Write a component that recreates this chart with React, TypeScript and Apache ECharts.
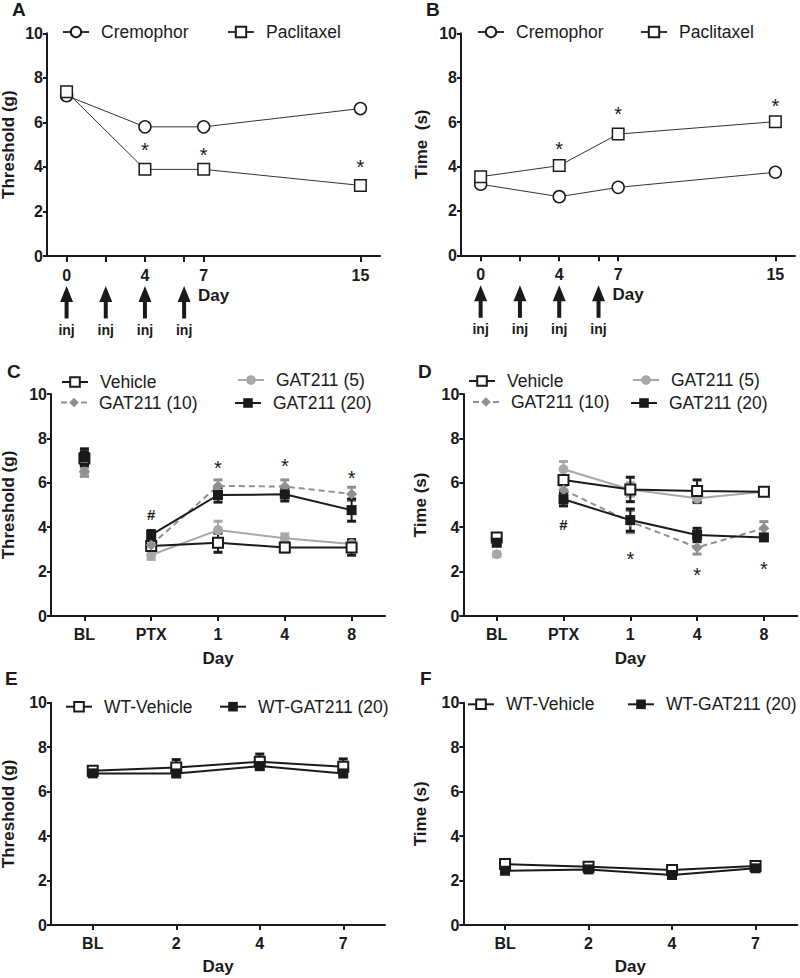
import React, { useEffect, useRef } from 'react';
import * as echarts from 'echarts';

// ---------- data ----------
const abDays = [0, 4, 7, 15];
const abTickDays = [0, 2, 4, 6, 7, 15];
const abLabelDays = [0, 4, 7, 15];
const injectionDays = [0, 2, 4, 6];

const aCremophor = [7.2, 5.8, 5.8, 6.62];
const aCremophorErr = [0.2, 0.05, 0.05, 0.1];
const aPaclitaxel = [7.37, 3.89, 3.89, 3.17];
const aPaclitaxelErr = [0.1, 0.05, 0.05, 0.08];
const aStarDays = [4, 7, 15];
const aStarLevels = [4.95, 4.75, 4.2];

const bCremophor = [3.2, 2.64, 3.06, 3.74];
const bCremophorErr = [0.08, 0.2, 0.06, 0.06];
const bPaclitaxel = [3.54, 4.04, 5.46, 6.02];
const bPaclitaxelErr = [0.06, 0.08, 0.15, 0.08];
const bStarDays = [4, 7, 15];
const bStarLevels = [4.97, 6.55, 6.95];

const cdCategories = ['BL', 'PTX', '1', '4', '8'];
const cVehicle = [7.1, 3.15, 3.3, 3.09, 3.09];
const cVehicleErr = [0.3, 0.2, 0.43, 0.2, 0.35];
const cGat5 = [6.5, 2.75, 3.87, 3.5, 3.24];
const cGat5Err = [0.2, 0.2, 0.4, 0.2, 0.15];
const cGat10 = [6.5, 3.2, 5.86, 5.83, 5.5];
const cGat10Err = [0.2, 0.2, 0.27, 0.3, 0.3];
const cGat20 = [7.15, 3.65, 5.45, 5.48, 4.77];
const cGat20Err = [0.38, 0.2, 0.32, 0.3, 0.5];
const cStarIdx = [2, 3, 4];
const cStarLevels = [6.88, 6.95, 6.4];
const cHashIdx = [1];
const cHashLevels = [4.55];

const dVehicle = [3.54, 6.13, 5.7, 5.63, 5.6];
const dVehicleErr = [0.15, 0.2, 0.55, 0.5, 0.15];
const dGat5 = [2.78, 6.61, 5.7, 5.3, 5.6];
const dGat5Err = [0.1, 0.35, 0.3, 0.2, 0.15];
const dGat10 = [3.3, 5.68, 4.25, 3.09, 3.95];
const dGat10Err = [0.1, 0.2, 0.5, 0.3, 0.3];
const dGat20 = [3.3, 5.26, 4.32, 3.65, 3.54];
const dGat20Err = [0.1, 0.3, 0.5, 0.3, 0.1];
const dStarIdx = [2, 3, 4];
const dStarLevels = [2.79, 2.07, 2.33];
const dHashIdx = [1];
const dHashLevels = [4.1];

const efCategories = ['BL', '2', '4', '7'];
const eVehicle = [6.94, 7.09, 7.34, 7.12];
const eVehicleErr = [0.1, 0.35, 0.35, 0.35];
const eGat20 = [6.82, 6.82, 7.15, 6.82];
const eGat20Err = [0.1, 0.15, 0.15, 0.15];

const fVehicle = [2.74, 2.62, 2.47, 2.65];
const fVehicleErr = [0.08, 0.08, 0.05, 0.05];
const fGat20 = [2.44, 2.5, 2.25, 2.55];
const fGat20Err = [0.08, 0.08, 0.08, 0.08];

// ---------- styling ----------
const INK = '#1a1a1a';
const GRAY5 = '#a8a8a8';
const GRAY10 = '#909090';
const FONT = "'Liberation Sans', Arial, Helvetica, sans-serif";

const tickLabel = { color: INK, fontSize: 16, fontWeight: 'bold', fontFamily: FONT };
const axisName = { color: INK, fontSize: 17, fontWeight: 'bold', fontFamily: FONT };

function yAxisCfg(grid: number, name: string, gap: number) {
  return {
    gridIndex: grid, type: 'value', min: 0, max: 10, interval: 2,
    name, nameLocation: 'middle', nameGap: gap, nameTextStyle: axisName,
    axisLine: { show: true, onZero: false, lineStyle: { color: INK, width: 2 } },
    axisTick: { show: true, length: 4, lineStyle: { color: INK, width: 2 } },
    axisLabel: { ...tickLabel, margin: 4 },
    splitLine: { show: false },
  };
}

function xCatCfg(grid: number, cats: string[], gap: number) {
  return {
    gridIndex: grid, type: 'category', data: cats, boundaryGap: true,
    name: 'Day', nameLocation: 'middle', nameGap: gap, nameTextStyle: axisName,
    axisLine: { show: true, onZero: false, lineStyle: { color: INK, width: 2 } },
    axisTick: { show: true, alignWithLabel: true, length: 5, lineStyle: { color: INK, width: 2 } },
    axisLabel: { ...tickLabel, margin: 10, interval: 0 },
    splitLine: { show: false },
  };
}

function xDayCfg(grid: number) {
  return {
    gridIndex: grid, type: 'value', min: -1, max: 16,
    name: 'Day', nameLocation: 'middle', nameGap: 31, nameTextStyle: axisName,
    axisLine: { show: true, onZero: false, lineStyle: { color: INK, width: 2 } },
    axisTick: { show: true, customValues: abTickDays, length: 6, lineStyle: { color: INK, width: 2 } },
    axisLabel: { ...tickLabel, customValues: abLabelDays, margin: 11 },
    splitLine: { show: false },
  };
}

function errorSeries(grid: number, xs: number[], vals: number[], errs: number[], color: string, capW: number, lw: number) {
  const data = vals.map((v, i) => [xs[i], v - errs[i], v + errs[i]]);
  return {
    type: 'custom', xAxisIndex: grid, yAxisIndex: grid, data, silent: true, z: 2,
    encode: { x: 0, y: [1, 2] },
    renderItem: (_p: any, api: any) => {
      const x = api.value(0);
      const top = api.coord([x, api.value(2)]);
      const bot = api.coord([x, api.value(1)]);
      const h = capW / 2;
      return {
        type: 'group',
        children: [
          { type: 'line', shape: { x1: top[0], y1: top[1], x2: bot[0], y2: bot[1] }, style: { stroke: color, lineWidth: lw } },
          { type: 'line', shape: { x1: top[0] - h, y1: top[1], x2: top[0] + h, y2: top[1] }, style: { stroke: color, lineWidth: lw + 1 } },
          { type: 'line', shape: { x1: bot[0] - h, y1: bot[1], x2: bot[0] + h, y2: bot[1] }, style: { stroke: color, lineWidth: lw + 1 } },
        ],
      };
    },
  };
}

function textSeries(grid: number, xs: number[], ys: number[], text: string, fontSize: number, bold: boolean, dy: number) {
  return {
    type: 'custom', xAxisIndex: grid, yAxisIndex: grid, silent: true, z: 6,
    data: xs.map((x, i) => [x, ys[i]]),
    encode: { x: 0, y: 1 },
    renderItem: (_p: any, api: any) => {
      const c = api.coord([api.value(0), api.value(1)]);
      return {
        type: 'text', x: c[0], y: c[1] + dy,
        style: { text, fill: INK, fontSize, fontFamily: FONT, fontWeight: bold ? 'bold' : 'normal', align: 'center', verticalAlign: 'middle' },
      };
    },
  };
}

function arrowSeries(grid: number) {
  return {
    type: 'custom', xAxisIndex: grid, yAxisIndex: grid, silent: true, clip: false, z: 6,
    data: injectionDays.map((d) => [d, 0]),
    encode: { x: 0, y: 1 },
    renderItem: (_p: any, api: any) => {
      const c = api.coord([api.value(0), 0]);
      const x = c[0];
      const y0 = c[1];
      return {
        type: 'group',
        children: [
          { type: 'polygon', shape: { points: [[x, y0 + 30], [x - 6.5, y0 + 46], [x + 6.5, y0 + 46]] }, style: { fill: INK } },
          { type: 'rect', shape: { x: x - 2, y: y0 + 44, width: 4, height: 18.5 }, style: { fill: INK } },
          { type: 'text', x, y: y0 + 74, style: { text: 'inj', fill: INK, fontSize: 14, fontWeight: 'bold', fontFamily: FONT, align: 'center', verticalAlign: 'middle' } },
        ],
      };
    },
  };
}

type Look = { symbol: string; size: number; fill: string; border: string; bw: number; line: string; lw: number; dash?: boolean };

const openCircleAB: Look = { symbol: 'circle', size: 12, fill: '#fff', border: INK, bw: 1.5, line: '#333', lw: 1 };
const openSquareAB: Look = { symbol: 'rect', size: 11.5, fill: '#fff', border: INK, bw: 1.5, line: '#333', lw: 1 };
const lookVehicle: Look = { symbol: 'rect', size: 10, fill: '#fff', border: INK, bw: 2, line: INK, lw: 2 };
const lookGat5: Look = { symbol: 'circle', size: 10, fill: GRAY5, border: GRAY5, bw: 0, line: GRAY5, lw: 2 };
const lookGat10: Look = { symbol: 'diamond', size: 11, fill: GRAY10, border: GRAY10, bw: 0, line: GRAY10, lw: 2, dash: true };
const lookGat20: Look = { symbol: 'rect', size: 10, fill: INK, border: INK, bw: 0, line: INK, lw: 2 };

function lineSeries(name: string, grid: number, data: any[], look: Look) {
  return {
    type: 'line', name, xAxisIndex: grid, yAxisIndex: grid, data, z: 3,
    symbol: look.symbol, symbolSize: look.size, showSymbol: true, showAllSymbol: true,
    itemStyle: { color: look.fill, borderColor: look.border, borderWidth: look.bw, opacity: 1 },
    lineStyle: { color: look.line, width: look.lw, type: look.dash ? [6, 4] : 'solid' },
    emphasis: { disabled: true },
  };
}

function scatterSeries(name: string, grid: number, data: any[], look: Look) {
  return {
    type: 'scatter', name, xAxisIndex: grid, yAxisIndex: grid, data, z: 3,
    symbol: look.symbol, symbolSize: look.size,
    itemStyle: { color: look.fill, borderColor: look.border, borderWidth: look.bw, opacity: 1 },
    emphasis: { disabled: true },
  };
}

function abGroup(name: string, grid: number, vals: number[], errs: number[], look: Look) {
  return [
    errorSeries(grid, abDays, vals, errs, INK, 8, 1.5),
    lineSeries(name, grid, abDays.map((d, i) => [d, vals[i]]), look),
  ];
}

function cdGroup(name: string, grid: number, vals: number[], errs: number[], look: Look) {
  const idx = vals.map((_, i) => i);
  const errColor = look.line;
  return [
    errorSeries(grid, idx, vals, errs, errColor, 9, 2),
    lineSeries(name, grid, vals.map((v, i) => (i === 0 ? '-' : v)), look),
    scatterSeries(name + ' BL', grid, [[0, vals[0]]], look),
  ];
}

function efGroup(name: string, grid: number, vals: number[], errs: number[], look: Look) {
  const idx = vals.map((_, i) => i);
  return [
    errorSeries(grid, idx, vals, errs, INK, 9, 2),
    lineSeries(name, grid, vals, look),
  ];
}

function legendItem(name: string, left: number, cy: number, itemHeight: number) {
  return {
    show: true, data: [name], left, top: cy - 9, padding: 0, itemGap: 0,
    itemWidth: 26, itemHeight, selectedMode: false, orient: 'horizontal',
    textStyle: { color: INK, fontSize: 17.5, fontFamily: FONT, padding: [0, 0, 0, 7] },
  };
}

function letter(text: string, left: number, top: number) {
  return { type: 'text', left, top, style: { text, fill: INK, fontSize: 19, fontWeight: 'bold', fontFamily: FONT } };
}

function buildOption() {
  const series: any[] = [
    // A
    ...abGroup('Cremophor', 0, aCremophor, aCremophorErr, openCircleAB),
    ...abGroup('Paclitaxel', 0, aPaclitaxel, aPaclitaxelErr, openSquareAB),
    textSeries(0, aStarDays, aStarLevels, '*', 20, false, 4.5),
    arrowSeries(0),
    // B
    ...abGroup('Cremophor', 1, bCremophor, bCremophorErr, openCircleAB),
    ...abGroup('Paclitaxel', 1, bPaclitaxel, bPaclitaxelErr, openSquareAB),
    textSeries(1, bStarDays, bStarLevels, '*', 20, false, 4.5),
    arrowSeries(1),
    // C
    ...cdGroup('GAT211 (5)', 2, cGat5, cGat5Err, lookGat5),
    ...cdGroup('Vehicle', 2, cVehicle, cVehicleErr, lookVehicle),
    ...cdGroup('GAT211 (10)', 2, cGat10, cGat10Err, lookGat10),
    ...cdGroup('GAT211 (20)', 2, cGat20, cGat20Err, lookGat20),
    textSeries(2, cStarIdx, cStarLevels, '*', 20, false, 4.5),
    textSeries(2, cHashIdx, cHashLevels, '#', 15, true, 0),
    // D
    ...cdGroup('GAT211 (5)', 3, dGat5, dGat5Err, lookGat5),
    ...cdGroup('Vehicle', 3, dVehicle, dVehicleErr, lookVehicle),
    ...cdGroup('GAT211 (10)', 3, dGat10, dGat10Err, lookGat10),
    ...cdGroup('GAT211 (20)', 3, dGat20, dGat20Err, lookGat20),
    textSeries(3, dStarIdx, dStarLevels, '*', 20, false, 4.5),
    textSeries(3, dHashIdx, dHashLevels, '#', 15, true, 0),
    // E
    ...efGroup('WT-Vehicle', 4, eVehicle, eVehicleErr, lookVehicle),
    ...efGroup('WT-GAT211 (20)', 4, eGat20, eGat20Err, lookGat20),
    // F
    ...efGroup('WT-Vehicle', 5, fVehicle, fVehicleErr, lookVehicle),
    ...efGroup('WT-GAT211 (20)', 5, fGat20, fGat20Err, lookGat20),
  ];

  return {
    animation: false,
    backgroundColor: '#fff',
    textStyle: { fontFamily: FONT },
    grid: [
      { left: 47, top: 33.3, width: 333, height: 222.7, outerBoundsMode: 'none' },
      { left: 461, top: 33.3, width: 334, height: 222, outerBoundsMode: 'none' },
      { left: 51, top: 394, width: 334, height: 222, outerBoundsMode: 'none' },
      { left: 463.3, top: 394, width: 334, height: 222, outerBoundsMode: 'none' },
      { left: 51, top: 702.7, width: 334, height: 222.3, outerBoundsMode: 'none' },
      { left: 463.3, top: 702.7, width: 334, height: 222.3, outerBoundsMode: 'none' },
    ],
    xAxis: [
      xDayCfg(0),
      xDayCfg(1),
      xCatCfg(2, cdCategories, 34),
      xCatCfg(3, cdCategories, 34),
      xCatCfg(4, efCategories, 33),
      xCatCfg(5, efCategories, 33),
    ],
    yAxis: [
      yAxisCfg(0, 'Threshold (g)', 30),
      yAxisCfg(1, 'Time  (s)', 31),
      yAxisCfg(2, 'Threshold (g)', 34),
      yAxisCfg(3, 'Time (s)', 34),
      yAxisCfg(4, 'Threshold (g)', 34),
      yAxisCfg(5, 'Time (s)', 34),
    ],
    legend: [
      legendItem('Cremophor', 62, 32, 13),
      legendItem('Paclitaxel', 227, 32, 13),
      legendItem('Cremophor', 477, 32, 13),
      legendItem('Paclitaxel', 640, 32, 13),
      legendItem('Vehicle', 61, 382, 12),
      legendItem('GAT211 (10)', 60, 402.5, 12),
      legendItem('GAT211 (5)', 237, 380, 12),
      legendItem('GAT211 (20)', 234, 403, 12),
      legendItem('Vehicle', 468, 381, 12),
      legendItem('GAT211 (10)', 472, 402, 12),
      legendItem('GAT211 (5)', 632, 380, 12),
      legendItem('GAT211 (20)', 630, 403, 12),
      legendItem('WT-Vehicle', 65, 706.7, 12),
      legendItem('WT-GAT211 (20)', 219, 706.7, 12),
      legendItem('WT-Vehicle', 467, 704.3, 12),
      legendItem('WT-GAT211 (20)', 627, 704.3, 12),
    ],
    graphic: [
      letter('A', 12, 0),
      letter('B', 426, 0),
      letter('C', 7, 362),
      letter('D', 418, 362),
      letter('E', 5, 669),
      letter('F', 420, 669),
    ],
    series,
  };
}

export default function App() {
  const ref = useRef<HTMLDivElement>(null);
  useEffect(() => {
    if (!ref.current) return;
    const chart = echarts.init(ref.current, undefined, { renderer: 'svg' });
    chart.setOption(buildOption() as any);
    return () => chart.dispose();
  }, []);
  return (
    <div
      ref={ref}
      style={{ position: 'fixed', left: 0, top: 0, width: 800, height: 978, background: '#fff' }}
    />
  );
}
